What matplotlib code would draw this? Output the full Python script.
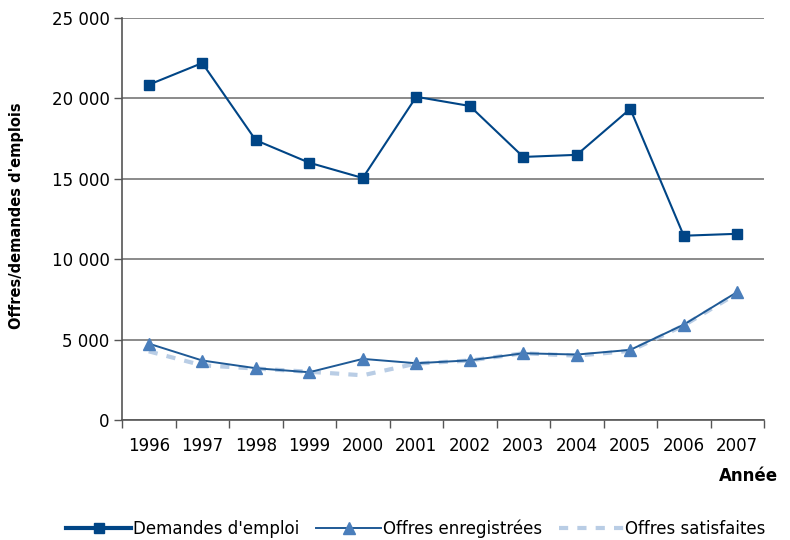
import matplotlib
matplotlib.use("Agg")
import matplotlib.pyplot as plt
import numpy as np
from matplotlib.ticker import FuncFormatter, FixedLocator, NullFormatter

years = ["1996", "1997", "1998", "1999", "2000", "2001",
         "2002", "2003", "2004", "2005", "2006", "2007"]
demandes = [20850, 22200, 17400, 16000, 15050, 20100,
            19530, 16360, 16490, 19350, 11460, 11580]
offres_enregistrees = [4750, 3700, 3220, 2970, 3800, 3530,
                       3710, 4150, 4070, 4360, 5930, 7960]
offres_satisfaites = [4270, 3400, 3200, 3000, 2780, 3510,
                      3700, 4150, 4000, 4300, 5880, 7880]

plt.rcParams["font.family"] = ["DejaVu Sans"]

fig = plt.figure(figsize=(7.9, 5.4), dpi=100)
ax = fig.add_axes([122 / 790, 120 / 540, 642 / 790, 402 / 540])

x = np.arange(len(years))

ax.plot(x, offres_satisfaites, color="#b9cde5", lw=3,
        linestyle=(0, (2.2, 2.2)), label="Offres satisfaites", zorder=3)
ax.plot(x, offres_enregistrees, color="#1f5a96", lw=1.4, marker="^",
        markersize=8, markerfacecolor="#4a7ebb", markeredgecolor="#4a7ebb",
        label="Offres enregistrées", zorder=4)
ax.plot(x, demandes, color="#004586", lw=1.5, marker="s", markersize=7.5,
        markerfacecolor="#004586", markeredgecolor="#004586",
        label="Demandes d'emploi", zorder=5)

ax.set_xlim(-0.5, len(years) - 0.5)
ax.set_ylim(0, 25000)

# category labels at centers, tick marks on boundaries
ax.set_xticks(x)
ax.set_xticklabels(years, fontsize=12)
ax.tick_params(axis="x", which="major", length=0, pad=12)
ax.xaxis.set_minor_locator(FixedLocator(np.arange(-0.5, len(years), 1.0)))
ax.xaxis.set_minor_formatter(NullFormatter())
ax.tick_params(axis="x", which="minor", length=6, width=1, color="#555555",
               direction="out")

ax.set_yticks(np.arange(0, 25001, 5000))
ax.yaxis.set_major_formatter(FuncFormatter(lambda v, p: f"{int(v):,}".replace(",", " ")))
ax.tick_params(axis="y", length=6, width=1, color="#555555", labelsize=12, pad=3)

ax.grid(axis="y", color="#777777", lw=1.2, zorder=0)
ax.set_axisbelow(True)
for s in ["top", "right"]:
    ax.spines[s].set_visible(False)
for s in ["left", "bottom"]:
    ax.spines[s].set_color("#555555")
    ax.spines[s].set_linewidth(1.2)

fig.text(17 / 790, 1 - 216 / 540, "Offres/demandes d'emplois", fontsize=10.5,
         fontweight="bold", rotation=90, ha="center", va="center")
fig.text(778 / 790, 1 - 476 / 540, "Année", fontsize=12, fontweight="bold",
         ha="right", va="center")

handles, labels = ax.get_legend_handles_labels()
order = [2, 1, 0]
leg = fig.legend([handles[i] for i in order], [labels[i] for i in order],
                 loc="center", bbox_to_anchor=(416 / 790, 1 - 529 / 540),
                 ncol=3, frameon=False, fontsize=12, handlelength=3.9,
                 handletextpad=0.1, columnspacing=1.0, borderaxespad=0)
leg.legend_handles[0].set_linewidth(3)

fig.savefig("out.png", dpi=100)
